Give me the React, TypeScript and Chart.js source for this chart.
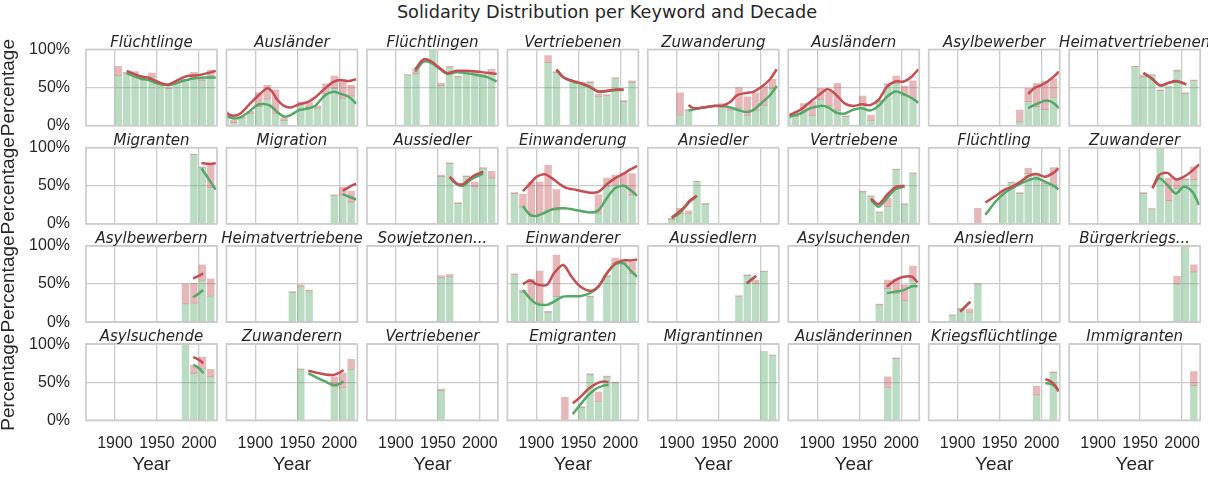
import { useEffect, useRef } from 'react';
import { Chart, registerables } from 'chart.js';

Chart.register(...registerables);

const keywords = [
  'Flüchtlinge', 'Ausländer', 'Flüchtlingen', 'Vertriebenen', 'Zuwanderung', 'Ausländern', 'Asylbewerber', 'Heimatvertriebenen',
  'Migranten', 'Migration', 'Aussiedler', 'Einwanderung', 'Ansiedler', 'Vertriebene', 'Flüchtling', 'Zuwanderer',
  'Asylbewerbern', 'Heimatvertriebene', 'Sowjetzonen...', 'Einwanderer', 'Aussiedlern', 'Asylsuchenden', 'Ansiedlern', 'Bürgerkriegs...',
  'Asylsuchende', 'Zuwanderern', 'Vertriebener', 'Emigranten', 'Migrantinnen', 'Ausländerinnen', 'Kriegsflüchtlinge', 'Immigranten',
];

const xTickYears = [1900, 1950, 2000];
const yTickShares = [0, 0.5, 1];

// decades that have a bar, per keyword
const barDecades: number[][] = [
  [1900, 1910, 1920, 1930, 1940, 1950, 1960, 1970, 1980, 1990, 2000, 2010],
  [1860, 1870, 1880, 1890, 1900, 1910, 1920, 1930, 1950, 1960, 1970, 1980, 1990, 2000, 2010],
  [1910, 1920, 1940, 1950, 1960, 1970, 1980, 1990, 2000, 2010],
  [1910, 1920, 1940, 1950, 1960, 1970, 1980, 1990, 2000, 2010],
  [1900, 1910, 1950, 1960, 1970, 1980, 1990, 2000, 2010],
  [1860, 1870, 1880, 1890, 1900, 1910, 1920, 1930, 1950, 1960, 1970, 1980, 1990, 2000, 2010],
  [1970, 1980, 1990, 2000, 2010],
  [1940, 1950, 1960, 1970, 1980, 1990, 2000, 2010],
  [1990, 2000, 2010],
  [1990, 2000, 2010],
  [1950, 1960, 1970, 1980, 1990, 2000, 2010],
  [1870, 1880, 1890, 1900, 1910, 1920, 1970, 1980, 1990, 2000, 2010],
  [1890, 1900, 1910, 1920, 1930],
  [1950, 1960, 1970, 1980, 1990, 2000, 2010],
  [1920, 1950, 1960, 1970, 1980, 1990, 2000, 2010],
  [1950, 1960, 1970, 1980, 1990, 2000, 2010],
  [1980, 1990, 2000, 2010],
  [1940, 1950, 1960],
  [1950, 1960],
  [1870, 1880, 1890, 1900, 1910, 1920, 1960, 1980, 1990, 2000, 2010],
  [1970, 1980, 1990, 2000],
  [1970, 1980, 1990, 2000, 2010],
  [1890, 1900, 1910, 1920],
  [1990, 2000, 2010],
  [1980, 1990, 2000, 2010],
  [1950, 1990, 2000, 2010],
  [1950],
  [1930, 1950, 1960, 1970, 1980, 1990],
  [2000, 2010],
  [1980, 1990],
  [1990, 2010],
  [2010],
];

// share of the green part of each bar
const greenShares: number[][] = [
  [0.66, 0.69, 0.64, 0.60, 0.64, 0.55, 0.49, 0.55, 0.60, 0.63, 0.59, 0.66],
  [0.12, 0.04, 0.10, 0.16, 0.25, 0.35, 0.16, 0.07, 0.29, 0.24, 0.23, 0.42, 0.49, 0.36, 0.39],
  [0.665, 0.68, 1.0, 0.53, 0.77, 0.64, 0.71, 0.69, 0.665, 0.69],
  [0.83, 0.70, 0.58, 0.555, 0.565, 0.38, 0.40, 0.62, 0.32, 0.565],
  [0.14, 0.205, 0.27, 0.205, 0.23, 0.13, 0.205, 0.27, 0.49],
  [0.10, 0.12, 0.205, 0.13, 0.34, 0.26, 0.205, 0.12, 0.29, 0.065, 0.315, 0.54, 0.555, 0.40, 0.37],
  [0.05, 0.315, 0.25, 0.21, 0.37],
  [0.775, 0.64, 0.665, 0.46, 0.51, 0.72, 0.42, 0.59],
  [0.91, 0.74, 0.48],
  [0.37, 0.38, 0.29],
  [0.62, 0.79, 0.27, 0.62, 0.49, 0.73, 0.60],
  [0.40, 0.22, 0.10, 0.12, 0.18, 0.18, 0.14, 0.49, 0.51, 0.50, 0.38],
  [0.06, 0.14, 0.14, 0.555, 0.26],
  [0.42, 0.36, 0.15, 0.225, 0.715, 0.26, 0.665],
  [0, 0.42, 0.545, 0.40, 0.66, 0.65, 0.53, 0.51],
  [0.40, 0.195, 1.0, 0.305, 0.47, 0.58, 0.585],
  [0.24, 0.25, 0.55, 0.34],
  [0.39, 0.47, 0.41],
  [0.58, 0.595],
  [0.625, 0.39, 0.31, 0.25, 0.13, 0.335, 0.335, 0.60, 0.77, 0.77, 0.64],
  [0.34, 0.61, 0.51, 0.665],
  [0.226, 0.44, 0.38, 0.28, 0.55],
  [0.087, 0.17, 0.126, 0.50],
  [0.50, 1.0, 0.66],
  [1.0, 0.62, 0.68, 0.57],
  [0.67, 0.44, 0.43, 0.67],
  [0.39],
  [0, 0.17, 0.60, 0.25, 0.57, 0.495],
  [0.90, 0.856],
  [0.43, 0.81],
  [0.333, 0.625],
  [0.455],
];

// total height of each bar (green + red part)
const totalShares: number[][] = [
  [0.78, 0.70, 0.71, 0.61, 0.69, 0.56, 0.50, 0.56, 0.61, 0.70, 0.61, 0.73],
  [0.18, 0.07, 0.12, 0.19, 0.43, 0.53, 0.47, 0.10, 0.31, 0.31, 0.26, 0.55, 0.65, 0.60, 0.53],
  [0.67, 0.75, 1.0, 0.56, 0.78, 0.65, 0.72, 0.70, 0.67, 0.74],
  [0.92, 0.71, 0.59, 0.57, 0.58, 0.415, 0.41, 0.63, 0.33, 0.59],
  [0.43, 0.21, 0.29, 0.23, 0.50, 0.38, 0.43, 0.52, 0.61],
  [0.12, 0.14, 0.29, 0.315, 0.49, 0.45, 0.555, 0.13, 0.39, 0.14, 0.34, 0.55, 0.65, 0.52, 0.59],
  [0.205, 0.49, 0.555, 0.58, 0.62],
  [0.78, 0.66, 0.67, 0.47, 0.51, 0.73, 0.43, 0.60],
  [0.915, 0.75, 0.80],
  [0.38, 0.48, 0.43],
  [0.64, 0.80, 0.28, 0.63, 0.55, 0.74, 0.69],
  [0.41, 0.39, 0.55, 0.55, 0.77, 0.45, 0.38, 0.60, 0.64, 0.66, 0.66],
  [0.075, 0.205, 0.17, 0.56, 0.27],
  [0.43, 0.37, 0.16, 0.335, 0.72, 0.265, 0.67],
  [0.205, 0.43, 0.55, 0.41, 0.73, 0.66, 0.54, 0.74],
  [0.41, 0.20, 1.0, 0.60, 0.58, 0.59, 0.75],
  [0.50, 0.51, 0.75, 0.565],
  [0.40, 0.49, 0.42],
  [0.61, 0.625],
  [0.635, 0.42, 0.56, 0.67, 0.14, 0.88, 0.34, 0.61, 0.84, 0.82, 0.79],
  [0.345, 0.62, 0.55, 0.67],
  [0.235, 0.55, 0.56, 0.49, 0.735],
  [0.095, 0.18, 0.17, 0.505],
  [0.60, 1.0, 0.75],
  [1.0, 0.72, 0.83, 0.67],
  [0.675, 0.57, 0.62, 0.80],
  [0.41],
  [0.30, 0.18, 0.61, 0.37, 0.58, 0.50],
  [0.90, 0.856],
  [0.57, 0.82],
  [0.45, 0.635],
  [0.64],
];

// smoothed red line: [year, share]
const redLines: [number, number][][] = [
  [[1914, 0.72], [1930, 0.65], [1940, 0.63], [1950, 0.58], [1963, 0.54], [1977, 0.61], [1985, 0.65], [2001, 0.665], [2017, 0.71], [2020, 0.72]],
  [[1866, 0.16], [1874, 0.13], [1882, 0.16], [1892, 0.27], [1902, 0.38], [1914, 0.49], [1920, 0.445], [1926, 0.34], [1934, 0.26], [1942, 0.24], [1952, 0.28], [1962, 0.31], [1971, 0.37], [1983, 0.49], [1993, 0.575], [2001, 0.60], [2011, 0.585], [2020, 0.61]],
  [[1923, 0.74], [1933, 0.87], [1941, 0.85], [1953, 0.75], [1961, 0.69], [1972, 0.72], [1984, 0.72], [1996, 0.71], [2008, 0.695], [2020, 0.68]],
  [[1924, 0.74], [1932, 0.64], [1944, 0.585], [1954, 0.555], [1964, 0.51], [1974, 0.45], [1984, 0.46], [1996, 0.475], [2004, 0.475]],
  [[1914, 0.27], [1920, 0.23], [1932, 0.24], [1944, 0.26], [1954, 0.26], [1964, 0.315], [1972, 0.40], [1983, 0.43], [1991, 0.445], [2001, 0.51], [2011, 0.61], [2019, 0.74]],
  [[1867, 0.14], [1880, 0.21], [1892, 0.315], [1904, 0.42], [1913, 0.48], [1923, 0.40], [1933, 0.29], [1943, 0.26], [1953, 0.28], [1963, 0.27], [1973, 0.34], [1983, 0.51], [1993, 0.58], [2003, 0.58], [2013, 0.65], [2020.5, 0.74]],
  [[1984, 0.415], [1991, 0.49], [1999, 0.53], [2007, 0.58], [2015, 0.65], [2020.5, 0.71]],
  [[1954, 0.695], [1964, 0.62], [1974, 0.53], [1984, 0.565], [1994, 0.585], [2005, 0.545]],
  [[2003, 0.80], [2009, 0.79], [2015, 0.785], [2020, 0.80]],
  [[2004, 0.436], [2011, 0.48], [2020, 0.53]],
  [[1964, 0.62], [1972.5, 0.53], [1980, 0.52], [1986, 0.575], [1994, 0.64], [2004, 0.685]],
  [[1884, 0.43], [1892.6, 0.53], [1900.6, 0.62], [1910.5, 0.65], [1920.4, 0.585], [1934, 0.48], [1948, 0.445], [1964, 0.41], [1974, 0.42], [1984, 0.52], [1994, 0.60], [2004, 0.66], [2012, 0.715], [2020, 0.76]],
  [[1894, 0.087], [1902, 0.15], [1910, 0.235], [1916, 0.31], [1924, 0.37]],
  [[1964, 0.33], [1973, 0.26], [1983, 0.38], [1993, 0.48], [2004, 0.50]],
  [[1933, 0.28], [1945, 0.365], [1955, 0.445], [1965, 0.49], [1975, 0.555], [1984.5, 0.63], [1994, 0.655], [2004, 0.62], [2014, 0.67], [2020, 0.73]],
  [[1964.7, 0.47], [1972.6, 0.64], [1982.5, 0.67], [1992.5, 0.585], [2002.4, 0.62], [2012.3, 0.70], [2020.2, 0.78]],
  [[1993, 0.57], [2000.4, 0.61], [2005, 0.64]],
  [],
  [],
  [[1884, 0.50], [1892.6, 0.545], [1900.6, 0.495], [1912.5, 0.487], [1921, 0.64], [1932, 0.75], [1942, 0.595], [1952, 0.47], [1964, 0.41], [1974, 0.47], [1984, 0.64], [1994, 0.77], [2004, 0.81], [2012, 0.81], [2020, 0.82]],
  [[1983.4, 0.51], [1989.4, 0.565], [1994.5, 0.61]],
  [[1983, 0.465], [1993, 0.55], [2003, 0.595], [2013, 0.595], [2019.5, 0.52]],
  [[1903, 0.14], [1909, 0.204], [1915, 0.27]],
  [],
  [[1993.3, 0.83], [2000.4, 0.79], [2005.2, 0.75]],
  [[1963, 0.65], [1973, 0.625], [1983, 0.60], [1993, 0.595], [1999, 0.62], [2005, 0.66]],
  [],
  [[1943.4, 0.224], [1952, 0.30], [1962, 0.41], [1972, 0.485], [1980, 0.51], [1986, 0.50]],
  [],
  [],
  [[2004.4, 0.54], [2010.3, 0.515], [2016.3, 0.455], [2020.2, 0.38]],
  [],
];

// smoothed green line: [year, share]
const greenLines: [number, number][][] = [
  [[1914, 0.69], [1930, 0.62], [1940, 0.60], [1950, 0.555], [1963, 0.53], [1977, 0.575], [1993, 0.62], [2009, 0.633], [2020, 0.633]],
  [[1866, 0.125], [1874, 0.095], [1882, 0.11], [1892, 0.18], [1902, 0.27], [1910, 0.285], [1918, 0.26], [1926, 0.18], [1934, 0.12], [1942, 0.14], [1952, 0.205], [1962, 0.225], [1971, 0.26], [1983, 0.40], [1993, 0.445], [2001, 0.42], [2011, 0.38], [2020, 0.29]],
  [[1923, 0.71], [1933, 0.84], [1941, 0.83], [1953, 0.74], [1961, 0.68], [1972, 0.70], [1984, 0.69], [1996, 0.665], [2008, 0.64], [2020, 0.58]],
  [[1924, 0.73], [1932, 0.632], [1944, 0.577], [1954, 0.547], [1964, 0.502], [1974, 0.443], [1984, 0.453], [1996, 0.468], [2004, 0.468]],
  [[1914, 0.20], [1932, 0.24], [1944, 0.26], [1954, 0.26], [1964, 0.24], [1972, 0.21], [1983, 0.18], [1991, 0.205], [2001, 0.30], [2011, 0.40], [2019, 0.52]],
  [[1867, 0.12], [1880, 0.16], [1892, 0.23], [1904, 0.26], [1913, 0.24], [1923, 0.17], [1933, 0.16], [1943, 0.21], [1953, 0.23], [1963, 0.20], [1973, 0.26], [1983, 0.38], [1993, 0.45], [2003, 0.415], [2013, 0.36], [2020.5, 0.30]],
  [[1984, 0.23], [1991, 0.27], [1999, 0.31], [2007, 0.33], [2015, 0.29], [2020.5, 0.23]],
  [[1954, 0.69], [1964, 0.615], [1974, 0.525], [1984, 0.56], [1994, 0.58], [2005, 0.54]],
  [[2003, 0.73], [2011, 0.60], [2020, 0.45]],
  [[2004, 0.39], [2011, 0.36], [2020, 0.32]],
  [[1964, 0.61], [1972.5, 0.52], [1980, 0.50], [1986, 0.555], [1994, 0.61], [2004, 0.66]],
  [[1884, 0.235], [1892.6, 0.12], [1900.6, 0.105], [1910.5, 0.15], [1920.4, 0.195], [1934, 0.205], [1948, 0.18], [1964, 0.15], [1974, 0.18], [1984, 0.34], [1994, 0.47], [2004, 0.50], [2012, 0.445], [2020, 0.37]],
  [[1894, 0.075], [1902, 0.13], [1910, 0.22], [1916, 0.30], [1924, 0.365]],
  [[1964, 0.315], [1973, 0.225], [1983, 0.335], [1993, 0.455], [2004, 0.49]],
  [[1933, 0.12], [1945, 0.29], [1955, 0.40], [1965, 0.47], [1975, 0.53], [1984.5, 0.575], [1994, 0.60], [2004, 0.555], [2014, 0.50], [2020, 0.455]],
  [[1964.7, 0.47], [1972.6, 0.60], [1982.5, 0.51], [1992.5, 0.40], [2002.4, 0.49], [2012.3, 0.42], [2020.2, 0.25]],
  [[1993, 0.326], [2000.4, 0.38], [2005, 0.42]],
  [],
  [],
  [[1884, 0.42], [1892.6, 0.31], [1900.6, 0.24], [1912.5, 0.226], [1921, 0.27], [1932, 0.335], [1942, 0.34], [1952, 0.34], [1964, 0.38], [1974, 0.465], [1984, 0.64], [1994, 0.76], [2004, 0.77], [2012, 0.68], [2020, 0.595]],
  [[1983.4, 0.505], [1989.4, 0.56], [1994.5, 0.605]],
  [[1983, 0.38], [1993, 0.40], [2003, 0.42], [2013, 0.47], [2019.5, 0.47]],
  [[1903, 0.135], [1909, 0.20], [1915, 0.265]],
  [],
  [[1993.3, 0.73], [2000.4, 0.68], [2005.2, 0.62]],
  [[1963, 0.617], [1973, 0.56], [1983, 0.51], [1993, 0.464], [1999, 0.473], [2005, 0.51]],
  [],
  [[1943.4, 0.08], [1952, 0.20], [1962, 0.33], [1972, 0.42], [1980, 0.455], [1986, 0.464]],
  [],
  [],
  [[2004.4, 0.486], [2010.3, 0.48], [2016.3, 0.44], [2020.2, 0.385]],
  [],
];

// ---- layout / style constants ----
const FIG_W = 1208;
const FIG_H = 477;
const PANEL_LEFT0 = 86;
const COL_STEP = 140.45;
const PANEL_W = 131;
const PANEL_TOP0 = 49.5;
const ROW_STEP = 98.2;
const PANEL_H = 76.2;
const X_MIN = 1865.5;
const X_MAX = 2021.5;
const BAR_OFFSET = 4; // bar centre relative to decade start
const TEXT = '#262626';
const GRID = '#cccccc';
const RED = '#c44e52';
const GREEN = '#55a868';
const TITLE_FONT = '"DejaVu Sans"';
const AXIS_FONT = '"Liberation Sans", Arial, sans-serif';

Chart.defaults.font.family = AXIS_FONT;
Chart.defaults.color = TEXT;

function Panel({ index }: { index: number }) {
  const ref = useRef<HTMLCanvasElement>(null);
  const r = Math.floor(index / 8);
  const c = index % 8;
  const pL = PANEL_LEFT0 + c * COL_STEP;
  const pT = PANEL_TOP0 + r * ROW_STEP;
  const pR = pL + PANEL_W;
  const pB = pT + PANEL_H;
  const isLeft = c === 0;
  const isBottom = r === 3;
  const cL = isLeft ? 0 : Math.floor(pL - 32);
  const cR = Math.ceil(pR + 32);
  const cT = Math.floor(pT - 42);
  const cB = isBottom ? FIG_H : Math.ceil(pB + 24);
  const w = cR - cL;
  const h = cB - cT;

  useEffect(() => {
    const canvas = ref.current;
    if (!canvas) return;
    const yW = isLeft ? pL - cL : 0;
    const xH = isBottom ? cB - pB : 0;
    const title = keywords[index];
    const decades = barDecades[index];
    const greens = greenShares[index];
    const totals = totalShares[index];

    const deco = {
      id: 'panelDeco',
      afterDatasetsDraw(chart: any) {
        const { ctx, chartArea: a } = chart;
        ctx.save();
        ctx.strokeStyle = GRID;
        ctx.lineWidth = 1.7;
        ctx.strokeRect(a.left, a.top, a.right - a.left, a.bottom - a.top);
        ctx.restore();
      },
      afterDraw(chart: any) {
        const { ctx, chartArea: a } = chart;
        ctx.save();
        ctx.font = `italic 15px ${TITLE_FONT}`;
        ctx.fillStyle = TEXT;
        ctx.textAlign = 'center';
        ctx.textBaseline = 'alphabetic';
        ctx.fillText(title, (a.left + a.right) / 2, a.top - 2.8);
        ctx.restore();
      },
    };

    const chart = new Chart(canvas, {
      type: 'bar',
      data: {
        datasets: [
          {
            type: 'line',
            data: redLines[index].map(([x, y]) => ({ x, y })),
            borderColor: RED,
            borderWidth: 2.5,
            pointRadius: 0,
            tension: 0.3,
            fill: false,
            order: 0,
            clip: 0,
          } as any,
          {
            type: 'line',
            data: greenLines[index].map(([x, y]) => ({ x, y })),
            borderColor: GREEN,
            borderWidth: 2.5,
            pointRadius: 0,
            tension: 0.3,
            fill: false,
            order: 1,
            clip: 0,
          } as any,
          {
            type: 'bar',
            data: decades.map((d, j) => ({ x: d + BAR_OFFSET, y: [greens[j], totals[j]] })),
            backgroundColor: 'rgba(196,78,82,0.4)',
            borderWidth: 0,
            barThickness: 6.8,
            grouped: false,
            order: 2,
            clip: 0,
          } as any,
          {
            type: 'bar',
            data: decades.map((d, j) => ({ x: d + BAR_OFFSET, y: greens[j] })),
            backgroundColor: 'rgba(85,168,104,0.4)',
            borderWidth: 0,
            barThickness: 6.8,
            grouped: false,
            order: 3,
            clip: 0,
          } as any,
        ],
      },
      options: {
        responsive: false,
        animation: false,
        events: [],
        layout: {
          padding: {
            left: pL - cL - yW,
            right: cR - pR,
            top: pT - cT,
            bottom: cB - pB - xH,
          },
        },
        plugins: {
          legend: { display: false },
          title: { display: false },
          tooltip: { enabled: false },
        },
        scales: {
          x: {
            type: 'linear',
            min: X_MIN,
            max: X_MAX,
            bounds: 'data',
            offset: false,
            grid: { color: GRID, lineWidth: 1.3, drawTicks: false, offset: false },
            border: { display: false },
            ticks: {
              display: isBottom,
              padding: 13.4,
              font: { size: 16 },
              color: TEXT,
              maxRotation: 0,
              autoSkip: false,
              callback: (v: any) => String(v),
            },
            title: {
              display: isBottom,
              text: 'Year',
              color: TEXT,
              font: { size: 19, lineHeight: 1 },
              padding: { top: 0, bottom: 2.5 },
            },
            afterBuildTicks: (s: any) => {
              s.ticks = xTickYears.map((v) => ({ value: v }));
            },
            afterFit: (s: any) => {
              s.height = xH;
              s.paddingLeft = 0;
              s.paddingRight = 0;
            },
          },
          y: {
            type: 'linear',
            min: 0,
            max: 1,
            bounds: 'data',
            beginAtZero: true,
            grid: { color: GRID, lineWidth: 1.3, drawTicks: false },
            border: { display: false },
            ticks: {
              display: isLeft,
              padding: 16,
              font: { size: 16 },
              color: TEXT,
              callback: (v: any) => `${Math.round(Number(v) * 100)}%`,
            },
            title: {
              display: isLeft,
              text: 'Percentage',
              color: TEXT,
              font: { size: 19, lineHeight: 0.92 },
              padding: { top: 0, bottom: 0 },
            },
            afterBuildTicks: (s: any) => {
              s.ticks = yTickShares.map((v) => ({ value: v }));
            },
            afterFit: (s: any) => {
              s.width = yW;
              s.paddingTop = 0;
              s.paddingBottom = 0;
            },
          },
        },
      } as any,
      plugins: [deco],
    });
    return () => chart.destroy();
  }, [index]);

  return (
    <canvas
      ref={ref}
      width={w}
      height={h}
      style={{ position: 'absolute', left: cL, top: cT, width: w, height: h }}
    />
  );
}

export default function App() {
  return (
    <div
      style={{
        position: 'absolute',
        left: 0,
        top: 0,
        width: FIG_W,
        height: FIG_H,
        overflow: 'hidden',
        background: '#ffffff',
      }}
    >
      <div
        style={{
          position: 'absolute',
          left: 0,
          top: 2.2,
          width: 1214,
          textAlign: 'center',
          fontFamily: TITLE_FONT,
          fontSize: 17.7,
          lineHeight: '20px',
          color: TEXT,
          whiteSpace: 'nowrap',
        }}
      >
        Solidarity Distribution per Keyword and Decade
      </div>
      {keywords.map((_, i) => (
        <Panel key={i} index={i} />
      ))}
    </div>
  );
}
